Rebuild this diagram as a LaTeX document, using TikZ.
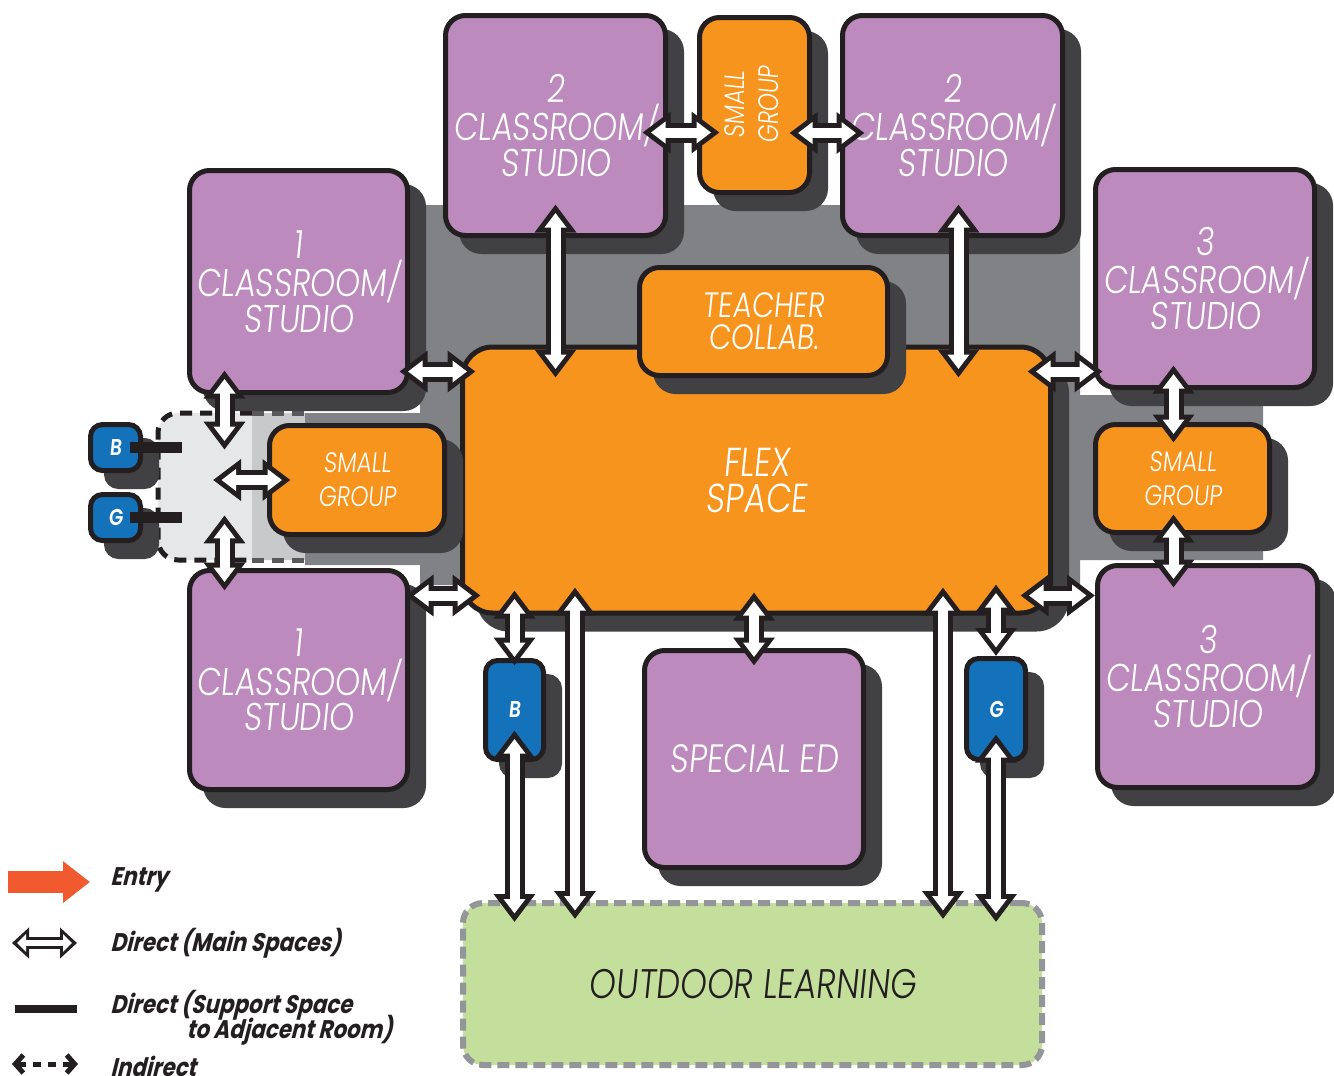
\documentclass[tikz,border=0pt]{standalone}
\usepackage{fontspec}
\usetikzlibrary{arrows.meta,shadows,calc}
\newfontfamily\roomfont[FakeStretch=0.82,FakeSlant=0.1]{Poppins Light}
\newfontfamily\keyfont[FakeStretch=0.84,FakeSlant=0.25]{Poppins}

\definecolor{roompurple}{RGB}{188,138,189}
\definecolor{supportorange}{RGB}{247,148,29}
\definecolor{restblue}{RGB}{20,114,186}
\definecolor{corridor}{RGB}{128,130,133}
\definecolor{shade}{RGB}{65,64,66}
\definecolor{ink}{RGB}{35,31,32}
\definecolor{hublight}{RGB}{230,231,232}
\definecolor{hubmid}{RGB}{200,201,203}
\definecolor{hubdash}{RGB}{88,89,91}
\definecolor{outdoorgreen}{RGB}{196,223,155}
\definecolor{dashgray}{RGB}{147,149,152}
\definecolor{entryred}{RGB}{241,90,47}

\tikzset{
  box/.style={draw=ink, line width=1mm, rounded corners=4mm, text=white, align=center, inner sep=0pt,
    drop shadow={shadow xshift=3.2mm, shadow yshift=-3.2mm, fill=shade, draw=shade, opacity=1}},
  room/.style={box, fill=roompurple, font=\roomfont\fontsize{22}{18}\selectfont},
  support/.style={box, fill=supportorange, font=\roomfont\fontsize{16}{19.3}\selectfont},
  rest/.style={box, fill=restblue, rounded corners=2.4mm, font=\roomfont\bfseries\fontsize{13}{14}\selectfont},
  hubzone/.style={fill=hublight, rounded corners=4mm, inner sep=0pt, minimum width=29.4mm, minimum height=29.4mm},
  hubline/.style={draw=ink, line width=1mm, dash pattern=on 2.4mm off 1.6mm, rounded corners=4mm},
  outdoorzone/.style={draw=dashgray, line width=1.2mm, dash pattern=on 2.4mm off 1.2mm, fill=outdoorgreen,
    rounded corners=4mm, text=ink, inner sep=0pt, font=\roomfont\fontsize{23.5}{19}\selectfont},
  linkout/.style={draw=ink, line width=4mm, {Triangle[width=8mm,length=5.6mm]}-{Triangle[width=8mm,length=5.6mm]}},
  linkin/.style={draw=white, line width=2mm, {Triangle[width=4.2mm,length=2.9mm]}-{Triangle[width=4.2mm,length=2.9mm]}},
  tie/.style={draw=ink, line width=2.2mm},
  keytext/.style={anchor=west, inner sep=0pt, text=ink, font=\keyfont\bfseries\fontsize{14.5}{16}\selectfont},
}

% white two-way arrow with black rim; #3 and #4 = how far each tip reaches past its end
\newcommand{\link}[4]{%
  \pgfmathsetlengthmacro\linkexta{1.7mm-#3}%
  \pgfmathsetlengthmacro\linkextb{1.7mm-#4}%
  \draw[linkout, shorten <=-#3, shorten >=-#4] (#1) -- (#2);
  \draw[linkin, shorten <=\linkexta, shorten >=\linkextb] (#1) -- (#2);
}

\begin{document}
\begin{tikzpicture}[x=0.2mm, y=-0.2mm]
	%%%%% START %%%%%
	\useasboundingbox (0,0) rectangle (1334,1075);
	
	% corridor
	\fill[corridor] (420,205) -- (1080,205) -- (1080,395) -- (1263,395) -- (1263,560) -- (1080,560)
		-- (1080,585) -- (420,585) -- (420,565) -- (305,565) -- (305,413) -- (420,413) -- cycle;
	
	% indirect zone
	\node[hubzone] (hub) at (231.5,486.5) {};
	\fill[hubmid] (252,413) rectangle (305,560);
	\draw[hubline] (252,413) -- (158,413) -- (158,560) -- (252,560);
	\draw[hubline, draw=hubdash] (252,413) -- (305,413);
	\draw[hubline, draw=hubdash] (252,560) -- (305,560);
	
	% spaces
	\node[box, fill=supportorange, rounded corners=6mm, minimum width=117.6mm, minimum height=53.2mm,
		font=\roomfont\fontsize{23}{20.5}\selectfont] (flex) at (756.5,480) {FLEX\\SPACE};
	\node[support, minimum width=49.6mm, minimum height=21.6mm,
		font=\roomfont\fontsize{20}{18.2}\selectfont] (collab) at (763.5,321.5) {TEACHER\\COLLAB.};
	
	\node[room, minimum width=43.6mm, minimum height=44.4mm] (c1top) at (298.5,281.5) {1\\CLASSROOM/\\STUDIO};
	\node[room, minimum width=43.6mm, minimum height=43.8mm] (c1bot) at (298.5,680) {1\\CLASSROOM/\\STUDIO};
	\node[room, minimum width=44mm, minimum height=44mm] (c2left) at (555.5,125.5) {2\\CLASSROOM/\\STUDIO};
	\node[room, minimum width=44mm, minimum height=44mm] (c2right) at (952.5,125.5) {2\\CLASSROOM/\\STUDIO};
	\node[room, minimum width=43.8mm, minimum height=43.6mm] (c3top) at (1205,278.5) {3\\CLASSROOM/\\STUDIO};
	\node[room, minimum width=44mm, minimum height=44.4mm] (c3bot) at (1207.5,676.5) {3\\CLASSROOM/\\STUDIO};
	\node[room, minimum width=43.8mm, minimum height=43.4mm,
		font=\roomfont\fontsize{22.5}{19}\selectfont] (sped) at (754,759) {SPECIAL ED};
	
	\node[support, minimum width=22mm, minimum height=35mm] (sgtop) at (754.5,105)
		{\rotatebox{90}{\begin{tabular}{@{}c@{}}SMALL\\GROUP\end{tabular}}};
	\node[support, minimum width=35mm, minimum height=21.8mm] (sgleft) at (357,480) {SMALL\\GROUP};
	\node[support, minimum width=34.8mm, minimum height=21.6mm] (sgright) at (1182.5,478.5) {SMALL\\GROUP};
	
	\node[rest, minimum width=11.6mm, minimum height=19.8mm] (bbot) at (514.5,710) {B};
	\node[rest, minimum width=11.8mm, minimum height=20.2mm] (gbot) at (996,709) {G};
	\node[rest, minimum width=10mm, minimum height=9.2mm] (bleft) at (115.5,447.5) {B};
	\node[rest, minimum width=10mm, minimum height=9.2mm] (gleft) at (115.5,517.5) {G};
	
	\node[outdoorzone, minimum width=115.8mm, minimum height=32.4mm] (outdoor) at (752.5,984) {OUTDOOR LEARNING};
	
	% support rooms tied to the indirect zone
	\draw[tie, shorten <=-2.7mm, shorten >=-4.8mm] (bleft.east) -- (bleft.east -| hub.west);
	\draw[tie, shorten <=-2.7mm, shorten >=-4.8mm] (gleft.east) -- (gleft.east -| hub.west);
	
	% direct links
	\link{c2left.south}{c2left.south |- flex.north}{6.7mm}{6.6mm}
	\link{$(c2right.south)+(6,0)$}{$(c2right.south |- flex.north)+(6,0)$}{6.7mm}{6.6mm}
	\link{$(c2left.east)+(0,7)$}{$(c2left.east -| sgtop.west)+(0,7)$}{5.1mm}{4.5mm}
	\link{$(sgtop.east)+(0,28)$}{$(sgtop.east -| c2right.west)+(0,28)$}{4.5mm}{4.9mm}
	\link{$(c1top.east)+(0,90)$}{$(c1top.east -| flex.west)+(0,90)$}{2.1mm}{3.1mm}
	\link{$(flex.east |- c3top.west)+(0,93)$}{$(c3top.west)+(0,93)$}{5.1mm}{1.9mm}
	\link{$(c3top.south -| sgright.north)+(-9,0)$}{$(sgright.north)+(-9,0)$}{4.9mm}{4.1mm}
	\link{$(sgright.south)+(-9,0)$}{$(sgright.south |- c3bot.north)+(-9,0)$}{4.1mm}{4.9mm}
	\link{$(c1bot.east |- flex.south)+(0,-20)$}{$(flex.south west)+(0,-20)$}{0.9mm}{4.1mm}
	\link{$(flex.south east)+(0,-20)$}{$(c3bot.west |- flex.south)+(0,-20)$}{6.5mm}{0mm}
	\link{bbot.north |- flex.south}{bbot.north}{5mm}{1.5mm}
	\link{$(flex.south west)+(115,0)$}{$(flex.south west |- outdoor.north)+(115,0)$}{5.6mm}{3.8mm}
	\link{sped.north |- flex.south}{sped.north}{4.6mm}{3.5mm}
	\link{$(flex.south east)+(-110,0)$}{$(flex.south east |- outdoor.north)+(-110,0)$}{5.6mm}{3.8mm}
	\link{gbot.north |- flex.south}{gbot.north}{6.2mm}{0mm}
	\link{bbot.south}{bbot.south |- outdoor.north}{6.3mm}{4.4mm}
	\link{gbot.south}{gbot.south |- outdoor.north}{5.5mm}{4.4mm}
	\link{$(hub.north |- c1top.south)+(-7,0)$}{$(hub.north)+(-7,0)$}{4.9mm}{7.4mm}
	\link{hub.center |- sgleft.west}{sgleft.west}{3.7mm}{4.7mm}
	\link{$(hub.south)+(-7,0)$}{$(hub.south |- c1bot.north)+(-7,0)$}{9mm}{4.5mm}
	
	% key
	\draw[entryred, line width=4.4mm, -{Triangle[width=8mm,length=5.4mm]}] (8,882) -- (90,882);
	\node[keytext] (kentry) at (110,880) {Entry};
	
	\draw[ink, line width=2.4mm, {Triangle[width=6mm,length=3.4mm]}-{Triangle[width=6mm,length=3.4mm]}] (12,943) -- (77,943);
	\draw[white, line width=1.2mm, shorten <=1mm, shorten >=1mm,
		{Triangle[width=3.4mm,length=1.8mm]}-{Triangle[width=3.4mm,length=1.8mm]}] (12,943) -- (77,943);
	\node[keytext] (kmain) at (110,943) {Direct (Main Spaces)};
	
	\draw[ink, line width=1.6mm] (15,1009) -- (77,1009);
	\node[keytext] (ksupport) at (110,1005) {Direct (Support Space};
	\node[keytext] (kroom) at (186,1030) {to Adjacent Room)};
	
	\draw[ink, line width=1mm, dash pattern=on 1.6mm off 1.4mm,
		{Straight Barb[length=1.6mm,width=3.6mm]}-{Straight Barb[length=1.6mm,width=3.6mm]}] (12,1064) -- (78,1064);
	\node[keytext] (kindirect) at (110,1066) {Indirect};
	
	%%%%% END %%%%%
\end{tikzpicture}
\end{document}
